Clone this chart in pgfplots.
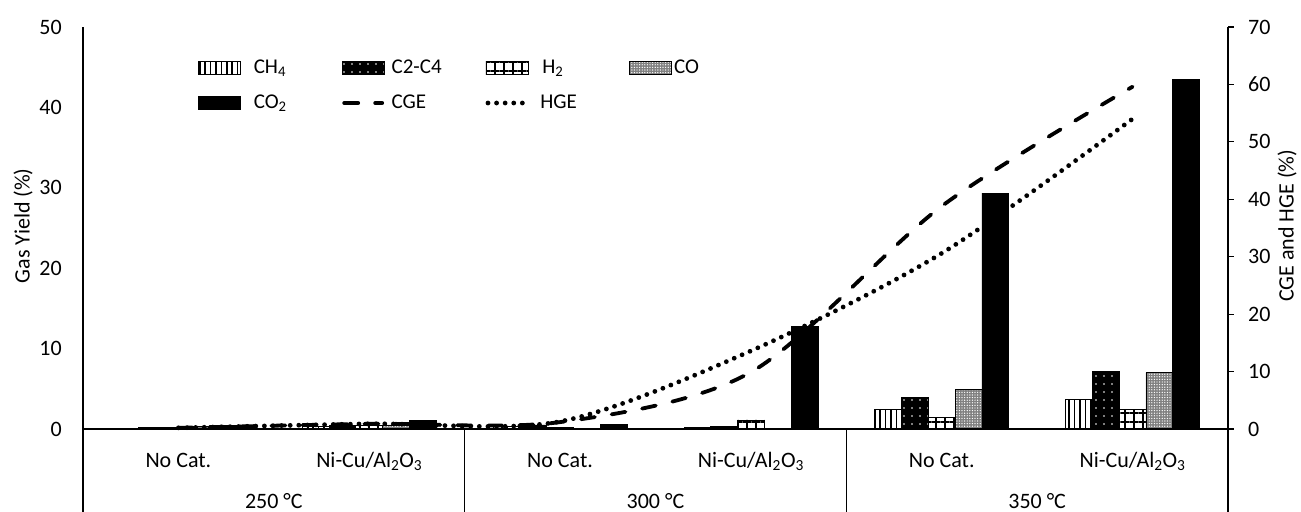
\documentclass[border=0pt]{standalone}
\usepackage{fontspec}
\setmainfont{Carlito}
\usepackage{pgfplots}
\usepackage{pgfplotstable}
\pgfplotsset{compat=1.18}
\usetikzlibrary{patterns.meta}

\pgfplotstableread{
x CH4  C2C4 H2   CO   CO2   CGE  HGE
0 0.10 0.20 0.20 0.30 0.40  0.2  0.2
1 0.30 0.40 0.40 0.50 1.03  0.9  0.9
2 0.30 0.50 0.20 0.10 0.60  1.2  1.3
3 0.15 0.35 1.12 0.05 12.70 9.9  13.6
4 2.45 3.98 1.45 4.94 29.35 38.8 30.6
5 3.65 7.13 2.45 7.00 43.50 59.6 54.0
}\datatable

\pgfplotsset{
  barleg/.style={legend image code/.code={\draw[##1] (0bp,-6.5bp) rectangle (42bp,6.5bp);}},
  lineleg/.style={legend image code/.code={\draw[##1] (2bp,0bp) -- (40bp,0bp);}},
  sCH4/.style={fill=white, draw=black, line width=0.8bp, postaction={pattern={Lines[angle=90,distance=5.4bp,line width=1.6bp]}, pattern color=black}},
  sC2/.style={fill=black, draw=black, line width=0.8bp, postaction={pattern={Dots[distance=8bp,radius=0.9bp]}, pattern color=white}},
  sH2/.style={fill=white, draw=black, line width=0.8bp, postaction={pattern={Hatch[angle=0,distance=9bp,line width=1.1bp]}, pattern color=black}},
  sCO/.style={fill=black!50, draw=black, line width=0.8bp, postaction={pattern={Dots[distance=2.6bp,radius=0.7bp]}, pattern color=white}},
  sCO2/.style={fill=black, draw=black, line width=0.8bp},
  sCGE/.style={black, line width=3.8bp, line cap=round, dash pattern=on 14bp off 17bp},
  sHGE/.style={black, line width=4.8bp, line cap=round, dash pattern=on 0bp off 8.6bp},
}

\begin{document}
\begin{tikzpicture}[font=\fontsize{22bp}{26bp}\selectfont]
\begin{axis}[
  at={(83bp,0bp)}, anchor=south west,
  scale only axis, width=1145bp, height=485bp,
  xmin=-0.5, xmax=5.5, ymin=-10.323, ymax=50,
  axis y line*=left, axis x line=none,
  ytick={0,10,...,50}, major tick length=0pt, xtick=\empty,
  yticklabel style={inner sep=0pt, xshift=-21bp},
  /pgf/number format/assume math mode=true,
  tick label style={font=\fontsize{22bp}{26bp}\selectfont},
  axis line style={line width=1.2bp, black},
  ylabel={Gas Yield (\%)},
  every axis y label/.style={at={(rel axis cs:0,0.59)}, xshift=-60bp, rotate=90, anchor=center, inner sep=0pt},
  ybar=0pt, bar width=26.8bp,
  legend columns=4,
  legend cell align=left,
  legend style={draw=none, fill=none, inner sep=0pt, outer sep=0pt,
    at={(rel axis cs:0.1004,0.934)}, anchor=north west,
    row sep=17bp, column sep=0bp,
    nodes={inner sep=0pt, text height=14bp, text depth=4bp, font=\fontsize{21bp}{25bp}\selectfont}},
]
\addplot[sCH4, barleg] table[x=x,y=CH4]{\datatable};
\addlegendentry{\makebox[101bp][l]{\hspace{13bp}CH\textsubscript{4}}}
\addplot[sC2, barleg] table[x=x,y=C2C4]{\datatable};
\addlegendentry{\makebox[101bp][l]{\hspace{7bp}C2-C4}}
\addplot[sH2, barleg] table[x=x,y=H2]{\datatable};
\addlegendentry{\makebox[101bp][l]{\hspace{14bp}H\textsubscript{2}}}
\addplot[sCO, barleg] table[x=x,y=CO]{\datatable};
\addlegendentry{\makebox[60bp][l]{\hspace{2bp}CO}}
\addplot[sCO2, barleg] table[x=x,y=CO2]{\datatable};
\addlegendentry{\makebox[101bp][l]{\hspace{13bp}CO\textsubscript{2}}}
\addlegendimage{sCGE, lineleg}
\addlegendentry{\makebox[101bp][l]{\hspace{7bp}CGE}}
\addlegendimage{sHGE, lineleg}
\addlegendentry{\makebox[101bp][l]{\hspace{12bp}HGE}}

\draw[black, line width=1.2bp] (axis cs:-0.5,0) -- (axis cs:5.5,0);
\draw[black, line width=1.2bp] (axis cs:1.5,0) -- (axis cs:1.5,-10.323);
\draw[black, line width=1.2bp] (axis cs:3.5,0) -- (axis cs:3.5,-10.323);

\node[anchor=base] at (axis cs:0,-4.73) {No Cat.};
\node[anchor=base] at (axis cs:1,-4.73) {Ni-Cu/Al\textsubscript{2}O\textsubscript{3}};
\node[anchor=base] at (axis cs:2,-4.73) {No Cat.};
\node[anchor=base] at (axis cs:3,-4.73) {Ni-Cu/Al\textsubscript{2}O\textsubscript{3}};
\node[anchor=base] at (axis cs:4,-4.73) {No Cat.};
\node[anchor=base] at (axis cs:5,-4.73) {Ni-Cu/Al\textsubscript{2}O\textsubscript{3}};
\node[anchor=base] at (axis cs:0.5,-9.83) {250 °C};
\node[anchor=base] at (axis cs:2.5,-9.83) {300 °C};
\node[anchor=base] at (axis cs:4.5,-9.83) {350 °C};
\end{axis}

\begin{axis}[
  at={(83bp,0bp)}, anchor=south west,
  scale only axis, width=1145bp, height=485bp,
  xmin=-0.5, xmax=5.5, ymin=-14.453, ymax=70,
  axis y line*=right, axis x line=none,
  ytick={0,10,...,70}, xtick=\empty,
  tick align=outside, major tick length=6bp,
  tick style={black, line width=1.2bp},
  yticklabel style={inner sep=0pt, xshift=14bp},
  /pgf/number format/assume math mode=true,
  tick label style={font=\fontsize{22bp}{26bp}\selectfont},
  axis line style={line width=1.2bp, black},
  ylabel={CGE and HGE (\%)},
  every axis y label/.style={at={(rel axis cs:1,0.59)}, xshift=59bp, rotate=90, anchor=center, inner sep=0pt},
]
\addplot[sCGE, smooth] table[x=x,y=CGE]{\datatable};
\addplot[sHGE, smooth] table[x=x,y=HGE]{\datatable};
\end{axis}
\pgfresetboundingbox
\path[use as bounding box] (0bp,0bp) rectangle (1301bp,512bp);
\end{tikzpicture}
\end{document}
